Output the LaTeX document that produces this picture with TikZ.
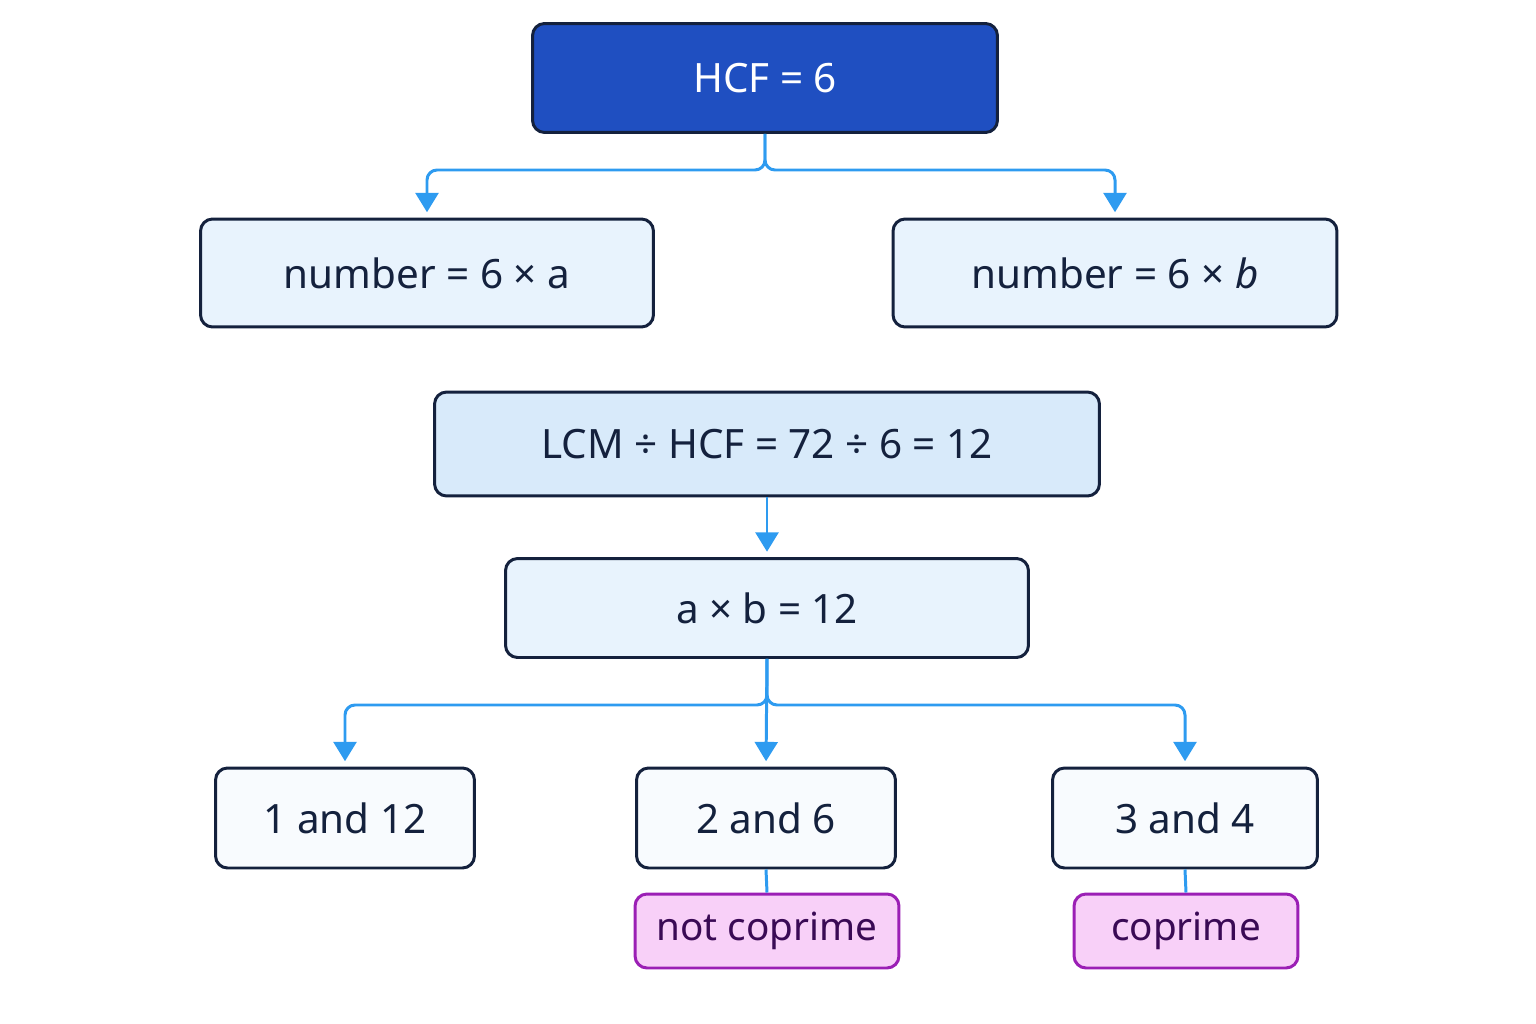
\documentclass[tikz,border=0pt]{standalone}
\usepackage{fontspec}
\setmainfont{Noto Sans}
\usetikzlibrary{positioning, arrows.meta}
\definecolor{navy}{HTML}{14213D}
\definecolor{topblue}{HTML}{1F4FC1}
\definecolor{lineblue}{HTML}{2E9BF0}
\definecolor{paleA}{HTML}{E8F3FD}
\definecolor{paleB}{HTML}{D8EAFA}
\definecolor{paleC}{HTML}{F8FBFE}
\definecolor{pinkfill}{HTML}{F8D0F8}
\definecolor{pinkline}{HTML}{9B1FB5}
\definecolor{pinktext}{HTML}{3A0A55}
\begin{document}
\begin{tikzpicture}[x=0.02cm,y=-0.02cm,
		box/.style={draw=navy,line width=1.7pt,rounded corners=0.24cm,
			font=\fontsize{23}{28}\selectfont\bfseries,text=navy},
		tag/.style={draw=pinkline,fill=pinkfill,line width=1.7pt,rounded corners=0.24cm,
			font=\fontsize{22}{26}\selectfont\bfseries,text=pinktext},
		arr/.style={draw=lineblue,line width=1.7pt,rounded corners=0.2cm,
			-{Triangle[width=13pt,length=11pt]},shorten >=3pt},
		link/.style={draw=lineblue,line width=1.7pt}]
		\useasboundingbox (0,0) rectangle (1536,1024);
		\node[box,fill=topblue,text=white,minimum width=9.3cm,minimum height=2.18cm] (hcf) at (765,78) {HCF = 6};
		\node[box,fill=paleA,minimum width=9.06cm,minimum height=2.16cm] (na) at (427,273) {number = 6 × a};
		\node[box,fill=paleA,minimum width=8.88cm,minimum height=2.16cm] (nb) at (1115,273) {number = 6 × \textit{b}};
		\node[box,fill=paleB,minimum width=13.3cm,minimum height=2.08cm] (lcm) at (767,444) {LCM ÷ HCF = 72 ÷ 6 = 12};
		\node[box,fill=paleA,minimum width=10.46cm,minimum height=1.98cm] (ab) at (767,608) {a × b = 12};
		\node[box,fill=paleC,minimum width=5.18cm,minimum height=2cm] (p1) at (345,818) {1 and 12};
		\node[box,fill=paleC,minimum width=5.18cm,minimum height=2cm] (p2) at (766,818) {2 and 6};
		\node[box,fill=paleC,minimum width=5.3cm,minimum height=2cm] (p3) at (1185,818) {3 and 4};
		\node[tag,minimum width=5.28cm,minimum height=1.48cm] (nc) at (767,931) {not coprime};
		\node[tag,minimum width=4.48cm,minimum height=1.48cm] (cp) at (1186,931) {coprime};

		\coordinate (top) at (765,170);
		\coordinate (mid) at (767,705);
		\draw[arr] (hcf.south) -- (top) -| (na.north);
		\draw[arr] (hcf.south) -- (top) -| (nb.north);
		\draw[arr] (lcm.south) -- (ab.north);
		\draw[arr] (ab.south) -- (mid) -| (p1.north);
		\draw[arr] (ab.south) -- (p2.north);
		\draw[arr] (ab.south) -- (mid) -| (p3.north);
		\draw[link] (p2.south) -- (nc.north);
		\draw[link] (p3.south) -- (cp.north);
\end{tikzpicture}
\end{document}
